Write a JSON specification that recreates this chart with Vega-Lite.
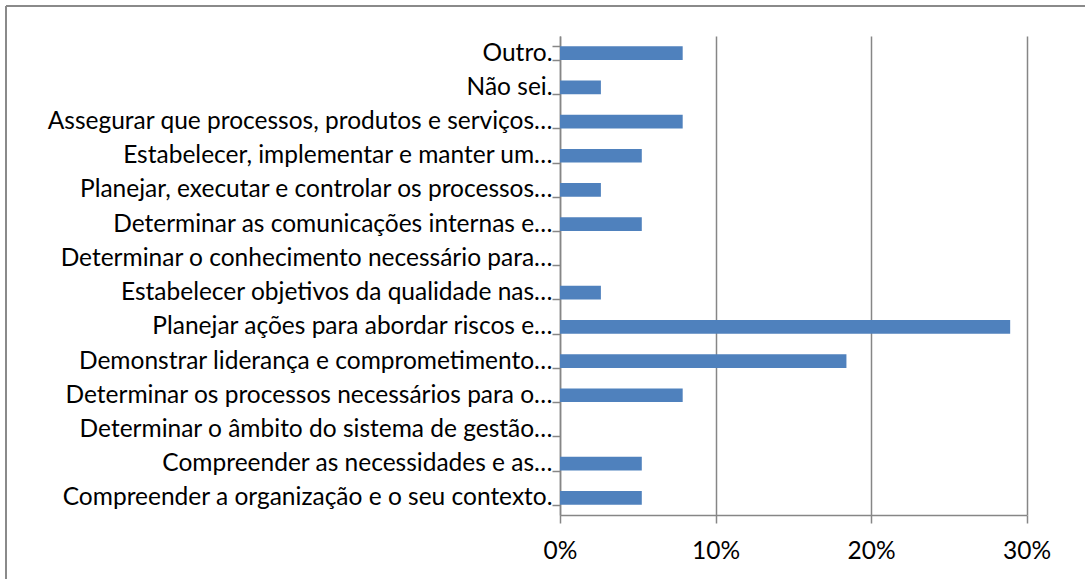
{
  "$schema": "https://vega.github.io/schema/vega-lite/v6.json",
  "width": 1079,
  "height": 573,
  "autosize": {"type": "none"},
  "padding": {"left": 6, "top": 6, "right": 0, "bottom": 0},
  "background": "white",
  "data": {
    "values": [
      {"categoria": "Outro.", "percentual": 0.0789},
      {"categoria": "Não sei.", "percentual": 0.0263},
      {"categoria": "Assegurar que processos, produtos e serviços…", "percentual": 0.0789},
      {"categoria": "Estabelecer, implementar e manter um…", "percentual": 0.0526},
      {"categoria": "Planejar, executar e controlar os processos…", "percentual": 0.0263},
      {"categoria": "Determinar as comunicações internas e…", "percentual": 0.0526},
      {"categoria": "Determinar o conhecimento necessário para…", "percentual": 0},
      {"categoria": "Estabelecer objetivos da qualidade nas…", "percentual": 0.0263},
      {"categoria": "Planejar ações para abordar riscos e…", "percentual": 0.2895},
      {"categoria": "Demonstrar liderança e comprometimento…", "percentual": 0.1842},
      {"categoria": "Determinar os processos necessários para o…", "percentual": 0.0789},
      {"categoria": "Determinar o âmbito do sistema de gestão…", "percentual": 0},
      {"categoria": "Compreender as necessidades e as…", "percentual": 0.0526},
      {"categoria": "Compreender a organização e o seu contexto.", "percentual": 0.0526}
    ]
  },
  "layer": [
    {
      "mark": {"type": "bar", "opacity": 0},
      "encoding": {
        "y": {
          "field": "categoria",
          "type": "nominal",
          "sort": null,
          "scale": {"range": [30, 509], "paddingInner": 0.6, "paddingOuter": 0.3},
          "axis": null
        },
        "x": {
          "field": "percentual",
          "type": "quantitative",
          "scale": {"domain": [0, 0.3], "range": [554, 1020.5], "nice": false, "zero": true},
          "axis": {
            "orient": "top",
            "title": null,
            "values": [0, 0.1, 0.2, 0.3],
            "grid": true,
            "gridColor": "#868686",
            "gridWidth": 1.5,
            "labels": false,
            "ticks": false,
            "domain": false
          }
        }
      }
    },
    {
      "mark": {"type": "bar", "color": "#4F81BD"},
      "encoding": {
        "y": {
          "field": "categoria",
          "type": "nominal",
          "sort": null,
          "axis": {
            "orient": "left",
            "title": null,
            "offset": -554,
            "tickBand": "extent",
            "domainColor": "#868686",
            "domainWidth": 1.5,
            "tickColor": "#868686",
            "tickWidth": 1.5,
            "tickSize": 8,
            "labelPadding": 0,
            "labelFont": "Lato",
            "labelFontSize": 24.5,
            "labelColor": "#000000",
            "labelLimit": 0
          }
        },
        "x": {
          "field": "percentual",
          "type": "quantitative",
          "axis": {
            "orient": "bottom",
            "title": null,
            "format": ".0%",
            "values": [0, 0.1, 0.2, 0.3],
            "offset": -64,
            "grid": false,
            "domainColor": "#868686",
            "domainWidth": 1.5,
            "tickColor": "#868686",
            "tickWidth": 1.5,
            "tickSize": 8,
            "labelPadding": 16,
            "labelFont": "Lato",
            "labelFontSize": 24.5,
            "labelColor": "#000000",
            "labelFlush": false,
            "labelOverlap": false
          }
        }
      }
    }
  ],
  "resolve": {"axis": {"x": "independent", "y": "independent"}},
  "config": {"view": {"stroke": "#8a8a8a", "strokeWidth": 2, "strokeDash": [1079, 1652, 573, 0]}}
}
